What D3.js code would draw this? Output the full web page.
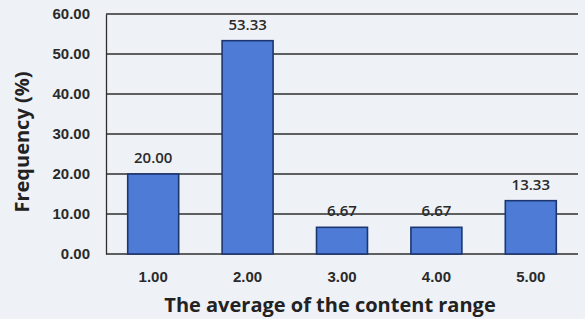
<!DOCTYPE html>
<html>
<head>
<meta charset="utf-8">
<script src="https://cdn.jsdelivr.net/npm/d3@7"></script>
<style>
body { margin: 0; background: #eef1f6; }
svg { display: block; font-family: "Open Sans", "DejaVu Sans", sans-serif; }
</style>
</head>
<body>
<script>
// значения столбиков, как на картинке
var categories = ["1.00", "2.00", "3.00", "4.00", "5.00"];
var values = [20.00, 53.33, 6.67, 6.67, 13.33];
var yTicks = [0, 10, 20, 30, 40, 50, 60];

var width = 585, height = 319;
var margin = { top: 14, right: 7, bottom: 65, left: 106 };

var svg = d3.select("body").append("svg")
	.attr("width", width)
	.attr("height", height);

var x = d3.scaleBand().domain(categories)
	.range([margin.left, width - margin.right])
	.paddingInner(0.46).paddingOuter(0.23);
var y = d3.scaleLinear().domain([0, 60]).range([height - margin.bottom, margin.top]);

//сетка
svg.append("g").selectAll("line").data(yTicks).enter().append("line")
	.attr("x1", margin.left).attr("x2", width - margin.right)
	.attr("y1", function(d) { return y(d); })
	.attr("y2", function(d) { return y(d); })
	.attr("stroke", "#2e2e2e").attr("stroke-width", 1.3);

//левая ось
var yAxis = svg.append("g").attr("transform", "translate(" + margin.left + ",0)")
	.call(d3.axisLeft(y).tickValues(yTicks).tickSize(0).tickPadding(16)
		.tickFormat(d3.format(".2f")));
yAxis.select(".domain").attr("stroke", "#2e2e2e").attr("stroke-width", 1.3);
yAxis.selectAll("text").attr("font-size", 15).attr("font-weight", 600).attr("fill", "#2a2a2a");

//столбики
svg.append("g").selectAll("rect").data(values).enter().append("rect")
	.attr("x", function(d, i) { return x(categories[i]); })
	.attr("y", function(d) { return y(d); })
	.attr("width", x.bandwidth())
	.attr("height", function(d) { return y(0) - y(d); })
	.attr("fill", "#4d7bd6")
	.attr("stroke", "#1c3670").attr("stroke-width", 1.6);

//подписи значений
svg.append("g").selectAll("text").data(values).enter().append("text")
	.attr("x", function(d, i) { return x(categories[i]) + x.bandwidth() / 2; })
	.attr("y", function(d) { return y(d) - 11; })
	.attr("text-anchor", "middle")
	.attr("font-size", 15).attr("font-weight", 600).attr("fill", "#2a2a2a")
	.text(function(d) { return d3.format(".2f")(d); });

//нижняя ось
var xAxis = svg.append("g").attr("transform", "translate(0," + y(0) + ")")
	.call(d3.axisBottom(x).tickSize(0).tickPadding(17));
xAxis.select(".domain").remove();
xAxis.selectAll("text").attr("font-size", 15).attr("font-weight", 600).attr("fill", "#2a2a2a");

//названия осей
svg.append("text")
	.attr("x", 330).attr("y", 312)
	.attr("text-anchor", "middle")
	.attr("font-size", 20).attr("font-weight", 700).attr("fill", "#222")
	.text("The average of the content range");
svg.append("text")
	.attr("transform", "translate(29,142) rotate(-90)")
	.attr("text-anchor", "middle")
	.attr("font-size", 20).attr("font-weight", 700).attr("fill", "#222")
	.text("Frequency (%)");
</script>
</body>
</html>
